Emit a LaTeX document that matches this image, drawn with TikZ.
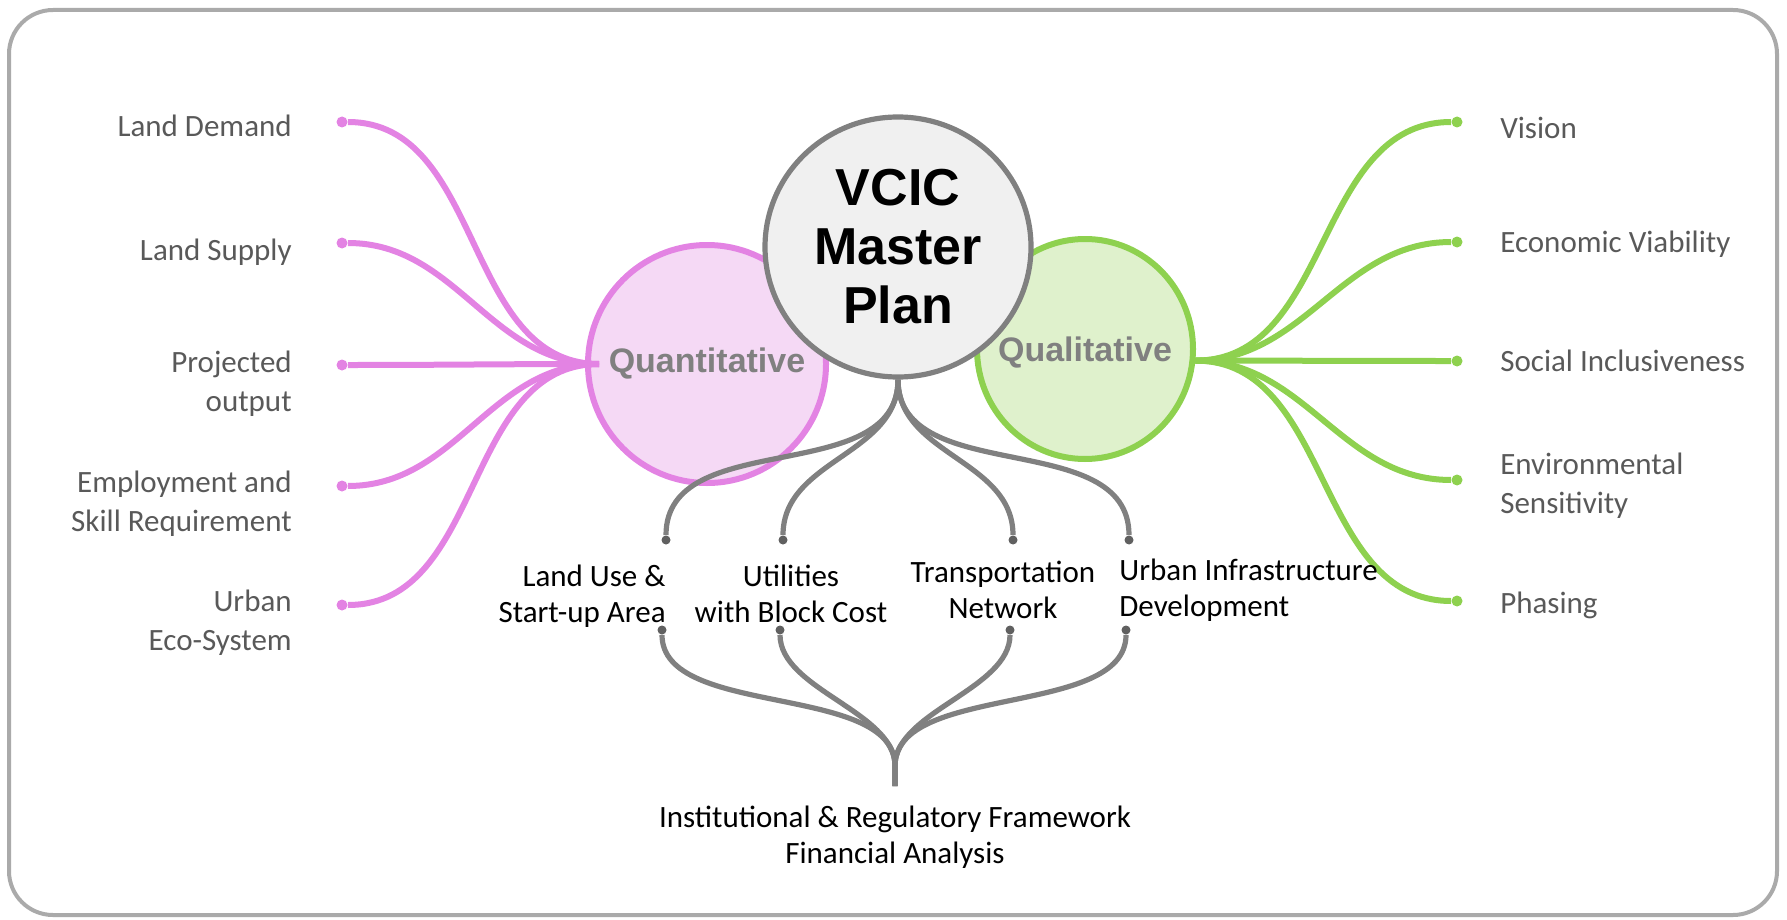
\documentclass[tikz,border=0pt]{standalone}
\usepackage{fontspec}
\setmainfont{Carlito}
\newfontfamily\headfont{Liberation Sans}
\usetikzlibrary{positioning,shapes.geometric}

\definecolor{quantline}{HTML}{E383E3}
\definecolor{quantfill}{HTML}{F5D9F5}
\definecolor{qualline}{HTML}{8ED14F}
\definecolor{qualfill}{HTML}{DFF1CC}
\definecolor{hubline}{HTML}{808080}
\definecolor{hubfill}{HTML}{F0F0F0}
\definecolor{frameline}{HTML}{AAAAAA}
\definecolor{leaftext}{HTML}{595959}

\begin{document}
\begin{tikzpicture}[x=0.5pt,y=-0.5pt,
    leaf/.style={font=\fontsize{15.5}{19.5}\selectfont,text=leaftext,inner sep=0pt},
    task/.style={font=\fontsize{15.5}{18}\selectfont,inner sep=0pt},
    bubtext/.style={font=\headfont\bfseries\fontsize{17}{20}\selectfont,text=hubline},
    pdot/.style={circle,fill=quantline,inner sep=0pt,minimum size=5.5pt},
    gdot/.style={circle,fill=qualline,inner sep=0pt,minimum size=5.5pt},
    kdot/.style={circle,fill=hubline!75!black,inner sep=0pt,minimum size=4.5pt},
    pline/.style={draw=quantline,line width=3pt},
    gline/.style={draw=qualline,line width=3pt},
    kline/.style={draw=hubline,line width=2.6pt}]
      \useasboundingbox (0,0) rectangle (1787,920);
      % frame
      \draw[frameline,line width=2pt,rounded corners=22pt] (9,10) rectangle (1777,915);
      % Quantitative and Qualitative
      \node[ellipse,draw=quantline,fill=quantfill,line width=3pt,minimum width=119pt,minimum height=119pt,
            label={[bubtext]center:Quantitative}] (quant) at (707,364) {};
      \node[ellipse,draw=qualline,fill=qualfill,line width=3pt,minimum width=108pt,minimum height=110pt,
            label={[bubtext,yshift=-2pt]center:Qualitative}] (qual) at (1085,349) {};
      % VCIC Master Plan
      \node[ellipse,draw=hubline,fill=hubfill,line width=2.6pt,minimum width=133pt,minimum height=130pt,
            inner sep=0pt,align=center,font=\headfont\bfseries\fontsize{26}{29.5}\selectfont] (master) at (898,247) {VCIC\\Master\\Plan};
      \coordinate (qhub) at ([xshift=7pt]quant.west);
      \coordinate (lhub) at (qual.-6);
      % quantitative leaves
      \node[pdot] (qn1) at (342,122) {};
      \node[pdot] (qn2) at (342,243) {};
      \node[pdot] (qn3) at (342,365) {};
      \node[pdot] (qn4) at (342,486) {};
      \node[pdot] (qn5) at (342,605) {};
      \node[leaf,left=22pt of qn1,yshift=-2pt] (demand) {Land Demand};
      \node[leaf,left=22pt of qn2,yshift=-4.5pt] (supply) {Land Supply};
      \node[leaf,left=22pt of qn3,yshift=-9.5pt,align=right] (output) {Projected\\output};
      \node[leaf,left=22pt of qn4,yshift=-9pt,align=right] (skill) {Employment and\\Skill Requirement};
      \node[leaf,left=22pt of qn5,yshift=-9pt,align=right] (eco) {Urban\\Eco-System};
      \draw[pline] (qhub) to[out=180,in=0] (qn1);
      \draw[pline] (qhub) to[out=180,in=0] (qn2);
      \draw[pline] (qhub) to[out=180,in=0] (qn3);
      \draw[pline] (qhub) to[out=180,in=0] (qn4);
      \draw[pline] (qhub) to[out=180,in=0] (qn5);
      % qualitative leaves
      \node[gdot] (ln1) at (1457,122) {};
      \node[gdot] (ln2) at (1457,242) {};
      \node[gdot] (ln3) at (1457,361) {};
      \node[gdot] (ln4) at (1457,480) {};
      \node[gdot] (ln5) at (1457,601) {};
      \node[leaf,right=18.5pt of ln1,yshift=-3pt] (vision) {Vision};
      \node[leaf,right=18.5pt of ln2,yshift=-1pt] (economic) {Economic Viability};
      \node[leaf,right=18.5pt of ln3] (social) {Social Inclusiveness};
      \node[leaf,right=18.5pt of ln4,yshift=-3pt,align=left] (environ) {Environmental\\Sensitivity};
      \node[leaf,right=18.5pt of ln5,yshift=-2pt] (phasing) {Phasing};
      \draw[gline] (lhub) to[out=0,in=180] (ln1);
      \draw[gline] (lhub) to[out=0,in=180] (ln2);
      \draw[gline] (lhub) to[out=0,in=180] (ln3);
      \draw[gline] (lhub) to[out=0,in=180] (ln4);
      \draw[gline] (lhub) to[out=0,in=180] (ln5);
      % studies below the master plan
      \node[kdot] (lu1) at (666,540) {};
      \node[kdot] (ut1) at (783,540) {};
      \node[kdot] (tn1) at (1013,540) {};
      \node[kdot] (ui1) at (1129,540) {};
      \draw[kline] (master.south) to[out=-90,in=90] (lu1);
      \draw[kline] (master.south) to[out=-90,in=90] (ut1);
      \draw[kline] (master.south) to[out=-90,in=90] (tn1);
      \draw[kline] (master.south) to[out=-90,in=90] (ui1);
      \node[task,below=10pt of lu1,anchor=north east,align=right] (landuse) {Land Use \&\\Start-up Area};
      \node[task,below=10pt of ut1,xshift=4pt,align=center] (utilities) {Utilities\\with Block Cost};
      \node[task,below=8pt of tn1,xshift=-5pt,align=center] (transport) {Transportation\\Network};
      \node[task,below=7pt of ui1,anchor=north west,xshift=-5pt,align=left] (infra) {Urban Infrastructure\\Development};
      % framework and finance
      \node[kdot] (lu2) at (662,630) {};
      \node[kdot] (ut2) at (780,630) {};
      \node[kdot] (tn2) at (1010,630) {};
      \node[kdot] (ui2) at (1126,630) {};
      \coordinate (merge) at (895,766);
      \coordinate (stem) at (895,786);
      \draw[kline] (lu2) to[out=-90,in=90,looseness=0.8] (merge) -- (stem);
      \draw[kline] (ut2) to[out=-90,in=90,looseness=0.8] (merge) -- (stem);
      \draw[kline] (tn2) to[out=-90,in=90,looseness=0.8] (merge) -- (stem);
      \draw[kline] (ui2) to[out=-90,in=90,looseness=0.8] (merge) -- (stem);
      \node[task,below=10pt of stem,align=center] (finance) {Institutional \& Regulatory Framework\\Financial Analysis};
\end{tikzpicture}
\end{document}
